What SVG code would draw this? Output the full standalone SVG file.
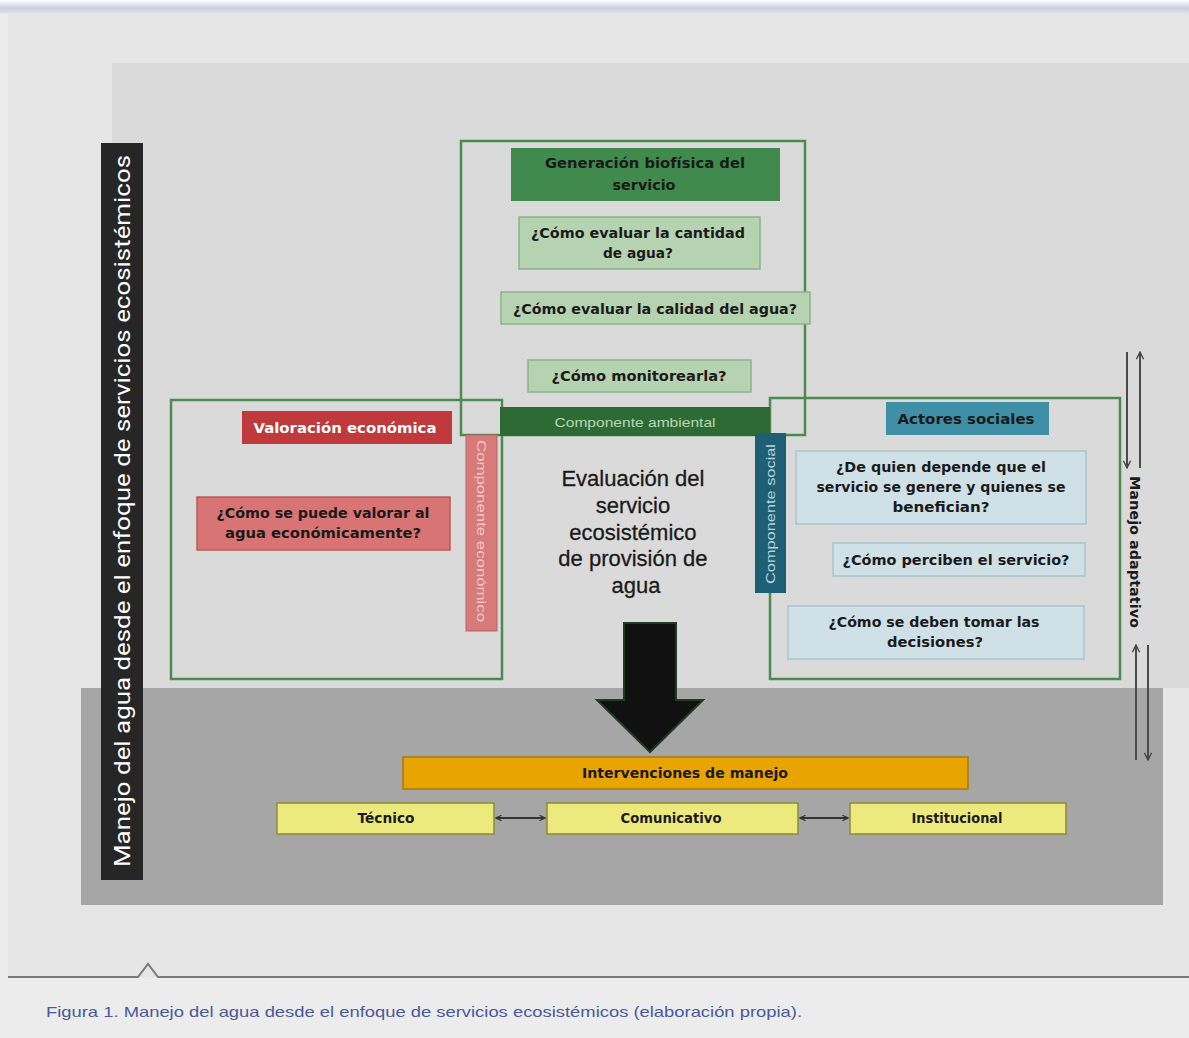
<svg xmlns="http://www.w3.org/2000/svg" width="1189" height="1038" viewBox="0 0 1189 1038">
  <defs>
    <linearGradient id="topShade" x1="0" y1="0" x2="0" y2="1">
      <stop offset="0" stop-color="#ffffff"/>
      <stop offset="0.6" stop-color="#c9cee2"/>
      <stop offset="1" stop-color="#e6e6e6"/>
    </linearGradient>
    <marker id="openHead" viewBox="0 0 10 10" refX="9" refY="5" markerWidth="7" markerHeight="7" orient="auto-start-reverse" markerUnits="userSpaceOnUse">
      <path d="M1,1 L9,5 L1,9" fill="none" stroke="#333" stroke-width="1.6"/>
    </marker>
    <marker id="smallHead" viewBox="0 0 10 10" refX="9" refY="5" markerWidth="9" markerHeight="9" orient="auto-start-reverse" markerUnits="userSpaceOnUse">
      <path d="M1,1 L9,5 L1,9" fill="none" stroke="#444" stroke-width="1.5"/>
    </marker>
  </defs>
  <style>
    .frame { fill: none; stroke: #4d8a52; stroke-width: 2.5; }
    .q { font-family: "DejaVu Sans", Verdana, sans-serif; font-weight: bold; font-size: 13.5px; fill: #1a1a1a; text-anchor: middle; }
    .qg { fill: #b5d2b1; stroke: #8db38b; stroke-width: 1.5; }
    .qb { fill: #cfe0e6; stroke: #a9c4cc; stroke-width: 1.5; }
    .qy { fill: #ecea7c; stroke: #8f8a3a; stroke-width: 1.5; }
    .vert { font-family: "Liberation Sans", Arial, sans-serif; font-size: 12px; text-anchor: middle; }
    .conn { stroke: #333; stroke-width: 2; fill: none; }
    .adapt { stroke: #4a4a4a; stroke-width: 2; fill: none; }
  </style>

  <!-- page background -->
  <rect x="0" y="0" width="1189" height="1038" fill="#ececec"/>
  <rect x="0" y="0" width="1189" height="14" fill="url(#topShade)"/>
  <rect x="8" y="14" width="1181" height="963" fill="#e6e6e6"/>
  <!-- upper panel -->
  <rect x="112" y="63" width="1077" height="625" fill="#dadada"/>
  <!-- lower panel -->
  <rect x="81" y="688" width="1082" height="217" fill="#a6a6a6"/>

  <!-- caption rule with caret -->
  <path d="M8,977 L138,977 L148,964 L158,977 L1189,977" fill="none" stroke="#7a7a7a" stroke-width="2"/>
  <text x="46" y="1017" font-family="Liberation Sans, Arial, sans-serif" font-size="15" fill="#4a589c" textLength="756" lengthAdjust="spacingAndGlyphs">Figura 1. Manejo del agua desde el enfoque de servicios ecosistémicos (elaboración propia).</text>

  <!-- left title bar -->
  <g id="title-bar">
    <rect x="101" y="143" width="42" height="737" fill="#262626"/>
    <text transform="translate(130,511) rotate(-90)" font-family="Roboto, Liberation Sans, sans-serif" font-size="22" fill="#ffffff" text-anchor="middle" textLength="712" lengthAdjust="spacingAndGlyphs">Manejo del agua desde el enfoque de servicios ecosistémicos</text>
  </g>

  <!-- component frames -->
  <g id="frame-ambiental"><rect class="frame" x="461" y="141" width="344" height="294"/></g>
  <g id="frame-economico"><rect class="frame" x="171" y="400" width="331" height="279"/></g>
  <g id="frame-social"><rect class="frame" x="770" y="398" width="350" height="281"/></g>

  <!-- environmental component -->
  <g id="generacion">
    <rect x="511" y="148" width="269" height="53" fill="#3f8a4c"/>
    <text class="q" x="645" y="168" textLength="200" lengthAdjust="spacingAndGlyphs">Generación biofísica del</text>
    <text class="q" x="644" y="190" textLength="63" lengthAdjust="spacingAndGlyphs">servicio</text>
  </g>
  <g id="q-cantidad">
    <rect class="qg" x="519" y="217" width="241" height="52"/>
    <text class="q" x="638" y="238" textLength="214" lengthAdjust="spacingAndGlyphs">¿Cómo evaluar la cantidad</text>
    <text class="q" x="638" y="258" textLength="70" lengthAdjust="spacingAndGlyphs">de agua?</text>
  </g>
  <g id="q-calidad">
    <rect class="qg" x="501" y="292" width="309" height="32"/>
    <text class="q" x="655" y="314" textLength="284" lengthAdjust="spacingAndGlyphs">¿Cómo evaluar la calidad del agua?</text>
  </g>
  <g id="q-monitoreo">
    <rect class="qg" x="528" y="360" width="223" height="32"/>
    <text class="q" x="639" y="381" textLength="175" lengthAdjust="spacingAndGlyphs">¿Cómo monitorearla?</text>
  </g>
  <g id="componente-ambiental">
    <rect x="500" y="407" width="270" height="29" fill="#2e6b34"/>
    <text x="635" y="427" font-family="Liberation Sans, Arial, sans-serif" font-size="13" fill="#b9d6b9" text-anchor="middle" textLength="161" lengthAdjust="spacingAndGlyphs">Componente ambiental</text>
  </g>

  <!-- economic component -->
  <g id="valoracion">
    <rect x="242" y="411" width="210" height="33" fill="#c0393c"/>
    <text class="q" x="345" y="433" style="fill:#ffffff" textLength="183" lengthAdjust="spacingAndGlyphs">Valoración económica</text>
  </g>
  <g id="q-valorar">
    <rect x="197" y="497" width="253" height="53" fill="#d97474" stroke="#b85a5a" stroke-width="1.5"/>
    <text class="q" x="323" y="518" textLength="213" lengthAdjust="spacingAndGlyphs">¿Cómo se puede valorar al</text>
    <text class="q" x="323" y="538" textLength="196" lengthAdjust="spacingAndGlyphs">agua  económicamente?</text>
  </g>
  <g id="componente-economico">
    <rect x="466" y="435" width="31" height="196" fill="#d77a7a" stroke="#b86262" stroke-width="1"/>
    <text class="vert" transform="translate(477,531) rotate(90)" fill="#f4c8c8" textLength="182" lengthAdjust="spacingAndGlyphs">Componente económico</text>
  </g>

  <!-- social component -->
  <g id="actores">
    <rect x="886" y="402" width="163" height="33" fill="#3f8fa6"/>
    <text class="q" x="966" y="424" textLength="137" lengthAdjust="spacingAndGlyphs">Actores sociales</text>
  </g>
  <g id="q-depende">
    <rect class="qb" x="796" y="451" width="290" height="73"/>
    <text class="q" x="941" y="472" textLength="210" lengthAdjust="spacingAndGlyphs">¿De quien depende que el</text>
    <text class="q" x="941" y="492" textLength="249" lengthAdjust="spacingAndGlyphs">servicio se genere y quienes se</text>
    <text class="q" x="941" y="512" textLength="97" lengthAdjust="spacingAndGlyphs">benefician?</text>
  </g>
  <g id="q-perciben">
    <rect class="qb" x="833" y="543" width="252" height="33"/>
    <text class="q" x="956" y="565" textLength="227" lengthAdjust="spacingAndGlyphs">¿Cómo perciben el servicio?</text>
  </g>
  <g id="q-decisiones">
    <rect class="qb" x="788" y="606" width="296" height="53"/>
    <text class="q" x="934" y="627" textLength="211" lengthAdjust="spacingAndGlyphs">¿Cómo se deben tomar las</text>
    <text class="q" x="935" y="647" textLength="96" lengthAdjust="spacingAndGlyphs">decisiones?</text>
  </g>
  <g id="componente-social">
    <rect x="755" y="433" width="31" height="160" fill="#1e5f76"/>
    <text class="vert" transform="translate(775,514) rotate(-90)" fill="#b8d2dc" textLength="140" lengthAdjust="spacingAndGlyphs">Componente social</text>
  </g>

  <!-- central statement -->
  <g id="evaluacion">
    <text font-family="Liberation Sans, Arial, sans-serif" font-size="22" fill="#1a1a1a" stroke="#1a1a1a" stroke-width="0.3" text-anchor="middle">
      <tspan x="636" y="486">Evaluación del</tspan>
      <tspan x="636" y="513">servicio</tspan>
      <tspan x="636" y="540">ecosistémico</tspan>
      <tspan x="636" y="566">de provisión de</tspan>
      <tspan x="636" y="593">agua</tspan>
    </text>
  </g>

  <!-- management interventions -->
  <g id="intervenciones">
    <rect x="403" y="757" width="565" height="32" fill="#e8a400" stroke="#a97a10" stroke-width="1.5"/>
    <text class="q" x="685" y="778" textLength="206" lengthAdjust="spacingAndGlyphs">Intervenciones de manejo</text>
  </g>
  <g id="tecnico">
    <rect class="qy" x="277" y="803" width="217" height="31"/>
    <text class="q" x="386" y="823" textLength="57" lengthAdjust="spacingAndGlyphs">Técnico</text>
  </g>
  <g id="comunicativo">
    <rect class="qy" x="547" y="803" width="251" height="31"/>
    <text class="q" x="671" y="823" textLength="101" lengthAdjust="spacingAndGlyphs">Comunicativo</text>
  </g>
  <g id="institucional">
    <rect class="qy" x="850" y="803" width="216" height="31"/>
    <text class="q" x="957" y="823" textLength="91" lengthAdjust="spacingAndGlyphs">Institucional</text>
  </g>

  <!-- adaptive management label -->
  <g id="manejo-adaptativo">
    <text transform="translate(1130,552) rotate(90)" font-family="DejaVu Sans, Verdana, sans-serif" font-weight="bold" font-size="14" fill="#1a1a1a" text-anchor="middle" textLength="152" lengthAdjust="spacingAndGlyphs">Manejo adaptativo</text>
  </g>

  <!-- connectors -->
  <g id="connectors">
    <polygon points="624,623 676,623 676,700 703,700 650,752 597,700 624,700" fill="#111111" stroke="#1f3b22" stroke-width="2"/>
    <line class="conn" x1="496" y1="818" x2="545" y2="818" marker-start="url(#openHead)" marker-end="url(#openHead)"/>
    <line class="conn" x1="800" y1="818" x2="848" y2="818" marker-start="url(#openHead)" marker-end="url(#openHead)"/>
    <line class="adapt" x1="1127" y1="352" x2="1127" y2="468" marker-end="url(#smallHead)"/>
    <line class="adapt" x1="1140" y1="468" x2="1140" y2="352" marker-end="url(#smallHead)"/>
    <line class="adapt" x1="1136" y1="760" x2="1136" y2="645" marker-end="url(#smallHead)"/>
    <line class="adapt" x1="1148" y1="645" x2="1148" y2="760" marker-end="url(#smallHead)"/>
  </g>
</svg>
